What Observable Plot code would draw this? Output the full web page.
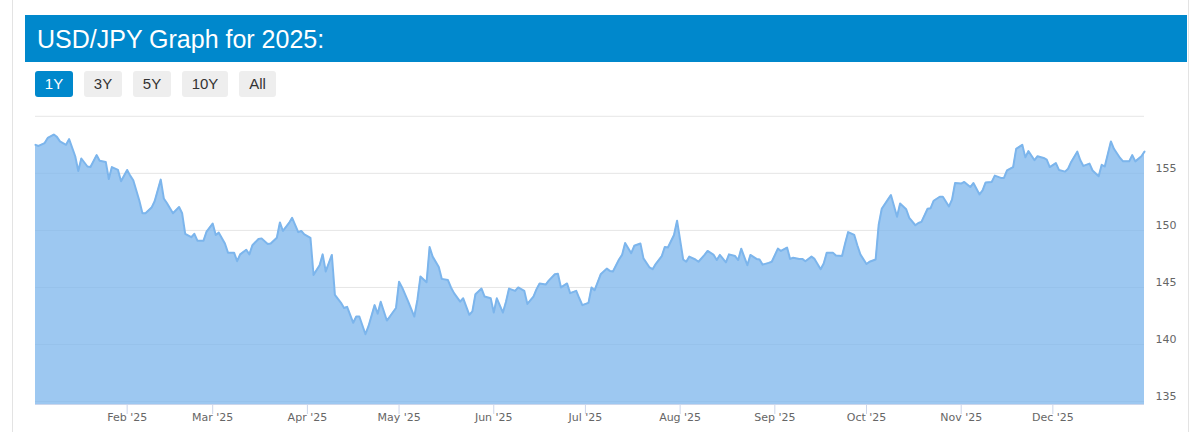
<!DOCTYPE html>
<html>
<head>
<meta charset="utf-8">
<script src="https://cdn.jsdelivr.net/npm/d3@7"></script>
<script src="https://cdn.jsdelivr.net/npm/@observablehq/plot@0.6"></script>
<style>
  html, body { margin: 0; padding: 0; background: #fff; width: 1200px; height: 432px; overflow: hidden; }
  #frame { position: absolute; left: 12px; top: 0; width: 1177px; height: 432px; border-left: 1px solid #e3e3e3; border-right: 1px solid #e3e3e3; box-sizing: border-box; }
  #header { position: absolute; left: 25px; top: 15px; width: 1162px; height: 47px; background: #0088cc; }
  #header h1 { margin: 0; position: absolute; left: 12px; top: 9px; font: 25px "Liberation Sans", Arial, sans-serif; color: #fff; font-weight: normal; line-height: 30px; }
  #buttons { position: absolute; left: 35px; top: 71px; }
  .btn { position: absolute; top: 0; height: 26px; border-radius: 3px; background: #eeeeee; color: #333; font: 15px "Liberation Sans", Arial, sans-serif; line-height: 26px; text-align: center; }
  .btn.active { background: #0088cc; color: #fff; }
  #chart { position: absolute; left: 0; top: 100px; }
</style>
</head>
<body>
<div id="frame"></div>
<div id="header"><h1>USD/JPY Graph for 2025:</h1></div>
<div id="buttons"></div>
<div id="chart"></div>
<script>
const dates = [
"2025-01-02","2025-01-03","2025-01-05","2025-01-06","2025-01-08","2025-01-09","2025-01-10","2025-01-12","2025-01-13","2025-01-15",
"2025-01-16","2025-01-17","2025-01-19","2025-01-20","2025-01-22","2025-01-23","2025-01-25","2025-01-26","2025-01-27","2025-01-29",
"2025-01-30","2025-02-01","2025-02-02","2025-02-03","2025-02-05","2025-02-06","2025-02-07","2025-02-09","2025-02-10","2025-02-12",
"2025-02-13","2025-02-14","2025-02-16","2025-02-18","2025-02-19","2025-02-20","2025-02-22","2025-02-23","2025-02-24","2025-02-26",
"2025-02-27","2025-03-01","2025-03-02","2025-03-03","2025-03-05","2025-03-06","2025-03-08","2025-03-09","2025-03-10","2025-03-12",
"2025-03-13","2025-03-14","2025-03-16","2025-03-17","2025-03-19","2025-03-20","2025-03-22","2025-03-23","2025-03-24","2025-03-26",
"2025-03-27","2025-03-29","2025-03-30","2025-03-31","2025-04-02","2025-04-03","2025-04-05","2025-04-06","2025-04-07","2025-04-09",
"2025-04-10","2025-04-12","2025-04-13","2025-04-14","2025-04-16","2025-04-17","2025-04-18","2025-04-20","2025-04-21","2025-04-23",
"2025-04-24","2025-04-25","2025-04-27","2025-04-28","2025-04-30","2025-05-01","2025-05-02","2025-05-04","2025-05-06","2025-05-07",
"2025-05-08","2025-05-10","2025-05-11","2025-05-12","2025-05-14","2025-05-15","2025-05-17","2025-05-18","2025-05-19","2025-05-21",
"2025-05-22","2025-05-24","2025-05-25","2025-05-26","2025-05-28","2025-05-29","2025-05-31","2025-06-01","2025-06-02","2025-06-04",
"2025-06-05","2025-06-06","2025-06-08","2025-06-09","2025-06-11","2025-06-12","2025-06-14","2025-06-15","2025-06-16","2025-06-18",
"2025-06-19","2025-06-21","2025-06-22","2025-06-23","2025-06-25","2025-06-26","2025-06-28","2025-06-29","2025-06-30","2025-07-02",
"2025-07-03","2025-07-04","2025-07-06","2025-07-08","2025-07-09","2025-07-10","2025-07-12","2025-07-13","2025-07-14","2025-07-16",
"2025-07-17","2025-07-19","2025-07-20","2025-07-22","2025-07-23","2025-07-24","2025-07-26","2025-07-27","2025-07-28","2025-07-30",
"2025-07-31","2025-08-02","2025-08-03","2025-08-04","2025-08-06","2025-08-07","2025-08-09","2025-08-10","2025-08-12","2025-08-13",
"2025-08-14","2025-08-16","2025-08-17","2025-08-19","2025-08-20","2025-08-21","2025-08-23","2025-08-24","2025-08-26","2025-08-27",
"2025-08-28","2025-08-30","2025-08-31","2025-09-02","2025-09-03","2025-09-05","2025-09-06","2025-09-07","2025-09-09","2025-09-10",
"2025-09-11","2025-09-13","2025-09-14","2025-09-16","2025-09-17","2025-09-18","2025-09-20","2025-09-21","2025-09-23","2025-09-24",
"2025-09-25","2025-09-27","2025-09-28","2025-09-29","2025-10-01","2025-10-02","2025-10-04","2025-10-05","2025-10-06","2025-10-08",
"2025-10-09","2025-10-11","2025-10-12","2025-10-14","2025-10-15","2025-10-17","2025-10-18","2025-10-19","2025-10-21","2025-10-22",
"2025-10-23","2025-10-25","2025-10-26","2025-10-28","2025-10-29","2025-10-30","2025-11-01","2025-11-02","2025-11-04","2025-11-05",
"2025-11-07","2025-11-08","2025-11-09","2025-11-11","2025-11-12","2025-11-14","2025-11-15","2025-11-16","2025-11-18","2025-11-19",
"2025-11-21","2025-11-22","2025-11-23","2025-11-25","2025-11-26","2025-11-28","2025-11-29","2025-11-30","2025-12-02","2025-12-03",
"2025-12-05","2025-12-06","2025-12-07","2025-12-09","2025-12-10","2025-12-11","2025-12-13","2025-12-14","2025-12-16","2025-12-17",
"2025-12-18","2025-12-20","2025-12-21","2025-12-23","2025-12-24","2025-12-26","2025-12-27","2025-12-28","2025-12-30","2025-12-31"
];
const rates = [
157.5,157.4,157.65,158.1,158.4,158.2,157.8,157.5,158.0,156.5,
155.2,156.3,155.6,155.55,156.6,156.1,156.0,154.5,155.55,155.3,
154.3,155.3,154.8,154.4,152.6,151.5,151.5,152.0,152.55,154.45,
152.8,152.4,151.5,152.05,151.5,149.7,149.4,149.7,149.1,149.1,
149.9,150.6,149.6,149.8,148.85,148.05,148.05,147.3,147.9,148.3,
147.9,148.7,149.25,149.3,148.8,148.85,149.35,150.7,149.95,150.65,
151.1,149.85,149.95,149.65,149.35,146.1,146.95,147.9,146.4,147.85,
144.35,143.65,143.2,143.3,141.9,142.45,142.45,140.9,141.6,143.45,
142.7,143.75,142.1,142.45,143.2,145.5,145.0,143.75,142.45,143.9,
145.95,145.45,148.55,147.7,146.8,145.75,145.65,145.0,144.5,143.75,
144.05,142.6,142.9,144.4,144.9,144.2,144.05,142.8,144.05,142.8,
143.75,144.9,144.7,145.0,144.7,143.55,144.2,144.85,145.35,145.25,
145.6,146.15,146.2,145.0,145.35,144.5,144.7,144.05,143.45,143.65,
145.0,144.75,146.15,146.65,146.45,146.4,147.45,147.85,148.9,148.0,
148.65,148.85,147.55,146.75,146.6,147.05,147.75,148.55,148.5,149.6,
150.85,147.45,147.25,147.7,147.45,147.25,147.85,148.2,147.85,147.4,
147.85,147.2,147.9,147.75,147.4,148.4,146.95,147.85,147.5,147.45,
147.0,147.15,147.25,148.4,148.2,148.5,147.5,147.6,147.5,147.5,
147.3,147.7,147.5,146.6,147.1,148.05,148.05,147.8,147.75,148.85,
149.85,149.6,148.7,147.9,147.05,147.25,147.45,150.5,151.9,152.7,
153.1,151.2,152.35,151.85,151.1,150.45,150.65,150.75,151.9,151.95,
152.6,152.95,152.95,152.1,152.7,154.15,154.1,154.25,153.8,154.15,
153.15,153.5,154.2,154.25,154.8,154.6,154.6,155.25,155.55,157.15,
157.5,156.4,156.95,156.15,156.5,156.35,156.2,155.55,155.9,155.3,
155.15,155.4,156.0,156.9,156.15,155.65,155.85,155.25,154.75,155.75,
155.6,157.8,157.15,156.35,156.05,156.05,156.6,156.05,156.5,156.9
];
const monthTicks = ["2025-02-01","2025-03-01","2025-04-01","2025-05-01","2025-06-01","2025-07-01","2025-08-01","2025-09-01","2025-10-01","2025-11-01","2025-12-01"];
const yTickLabels = [135, 140, 145, 150, 155];
const gridLevels = [135, 140, 145, 150, 155, 160];
const rangeButtons = ["1Y", "3Y", "5Y", "10Y", "All"];
const buttonLefts = [0, 49, 98, 147, 204];
const buttonWidths = [38, 38, 38, 46, 37];

// range buttons
const bwrap = document.getElementById("buttons");
rangeButtons.forEach((t, i) => {
  const b = document.createElement("div");
  b.className = "btn" + (i === 0 ? " active" : "");
  b.style.left = buttonLefts[i] + "px";
  b.style.width = buttonWidths[i] + "px";
  b.textContent = t;
  bwrap.appendChild(b);
});

const yMin = 134.74, yMax = 160.07;
const data = dates.map((d, i) => ({date: new Date(d), rate: rates[i]}));

const chart = Plot.plot({
  width: 1200,
  height: 332,
  marginLeft: 35,
  marginRight: 56,
  marginTop: 15,
  marginBottom: 28,
  style: {fontFamily: "'DejaVu Sans', sans-serif", fontSize: "11px", color: "#666", background: "transparent", overflow: "visible"},
  x: {type: "utc", domain: [new Date("2025-01-02"), new Date("2025-12-31")], label: null},
  y: {domain: [yMin, yMax], label: null},
  marks: [
    Plot.ruleY(gridLevels, {stroke: "#e6e6e6", strokeWidth: 1}),
    Plot.areaY(data, {x: "date", y1: yMin, y2: "rate", fill: "#7cb5ec", fillOpacity: 0.75}),
    Plot.lineY(data, {x: "date", y: "rate", stroke: "#7cb5ec", strokeWidth: 2}),
    Plot.ruleY([yMin], {stroke: "#ccd6eb", strokeWidth: 1}),
    Plot.axisX({ticks: monthTicks.map(d => new Date(d)), tickFormat: d3.utcFormat("%b '%y"), tickSize: 10, tickPadding: -1, stroke: "#ccd6eb", fill: "#666", label: null}),
    Plot.axisY({anchor: "right", ticks: yTickLabels, tickSize: 0, tickPadding: 11, dy: -5, fill: "#666", label: null})
  ]
});
document.getElementById("chart").appendChild(chart);
</script>
</body>
</html>
